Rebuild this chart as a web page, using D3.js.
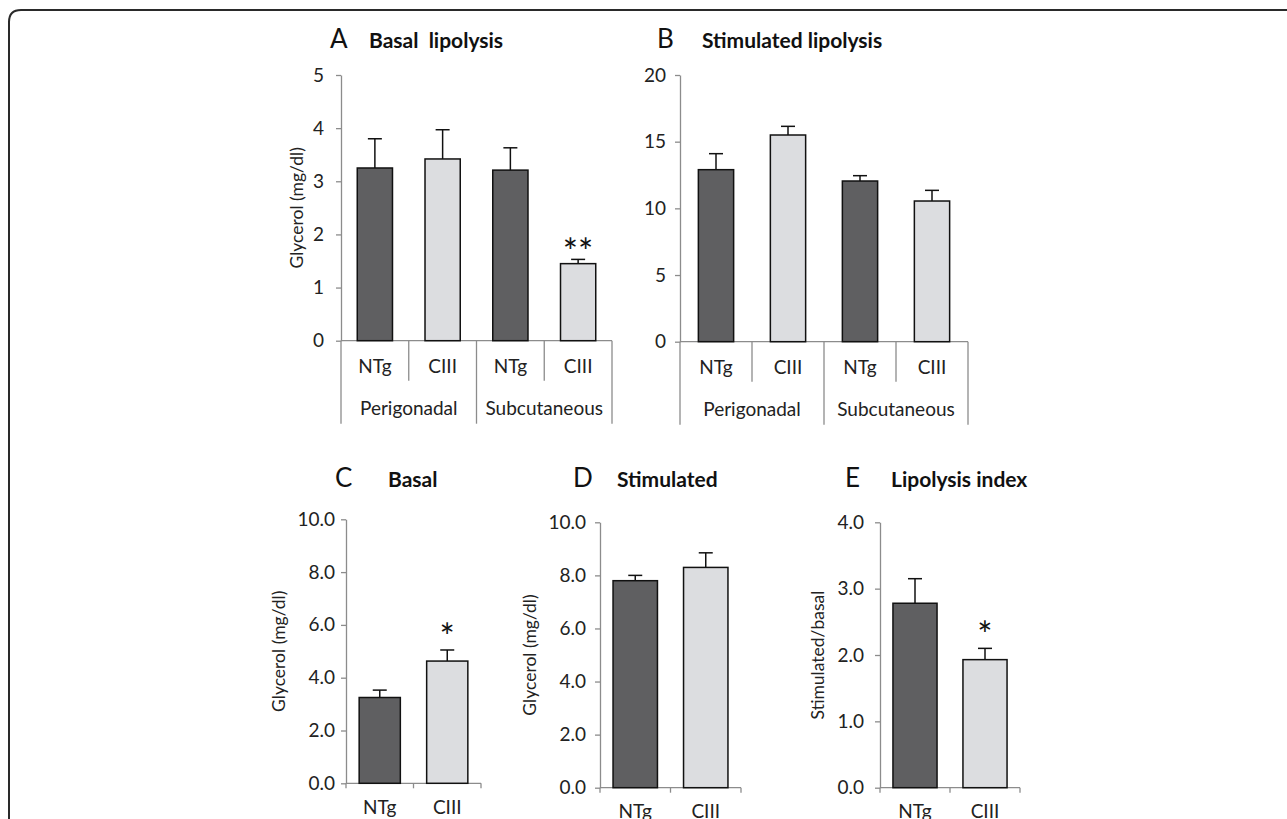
<!DOCTYPE html>
<html>
<head>
<meta charset="utf-8">
<script src="https://cdn.jsdelivr.net/npm/d3@7"></script>
<style>
  body { margin: 0; background: #fff; }
  svg { display: block; font-family: Lato, "Open Sans", sans-serif; }
</style>
</head>
<body>
<svg id="fig" width="1287" height="819"></svg>
<script>
// values
const genotypes = ["NTg", "CIII"];
const depots = ["Perigonadal", "Subcutaneous"];

const basalLipolysis = [3.25, 3.42, 3.21, 1.45];
const basalLipolysisErr = [0.55, 0.55, 0.42, 0.08];
const basalLipolysisSig = ["", "", "", "**"];

const stimLipolysis = [12.9, 15.5, 12.05, 10.55];
const stimLipolysisErr = [1.2, 0.65, 0.4, 0.8];

const basal = [3.25, 4.63];
const basalErr = [0.28, 0.42];
const basalSig = ["", "*"];

const stimulated = [7.8, 8.3];
const stimulatedErr = [0.2, 0.55];

const lipIndex = [2.78, 1.93];
const lipIndexErr = [0.37, 0.17];
const lipIndexSig = ["", "*"];

const ticksA = [0, 1, 2, 3, 4, 5];
const ticksB = [0, 5, 10, 15, 20];
const ticksCD = [0, 2, 4, 6, 8, 10];
const ticksE = [0, 1, 2, 3, 4];

const svg = d3.select('#fig');
const axisColor = '#8c8c8c';
const fills = { NTg: '#5f5f61', CIII: '#dcdde0' };

// frame with rounded top-left corner
svg.append('path')
    .attr('d', 'M9,830 V22 Q9,10 21,10 H1300')
    .attr('fill', 'none')
    .attr('stroke', '#2a2a2a')
    .attr('stroke-width', 2);

// build rows for the grouped panels
const grouped = (vals, errs, sig) => {
    let rows = [];
    depots.forEach((dp, gi) => {
        genotypes.forEach((g, i) => {
            const k = gi * 2 + i;
            rows.push({ key: dp + ' ' + g, group: dp, geno: g, v: vals[k], e: errs[k], s: sig ? sig[k] : '' });
        });
    });
    return rows;
}
const simple = (vals, errs, sig) => genotypes.map((g, i) => ({ key: g, geno: g, v: vals[i], e: errs[i], s: sig ? sig[i] : '' }));

const drawPanel = (p) => {
    const g = svg.append('g');
    const y = d3.scaleLinear().domain(p.domain).range([p.y0, p.y1]);
    const x = d3.scaleBand().domain(p.rows.map(d => d.key)).range([p.x0, p.x1]);
    const bw = x.bandwidth() * p.barFrac;

    // y axis
    const ya = g.append('g')
        .attr('transform', `translate(${p.x0},0)`)
        .call(d3.axisLeft(y).tickValues(p.ticks).tickFormat(d3.format(p.fmt)).tickSizeInner(5).tickSizeOuter(0).tickPadding(p.pad));
    ya.select('.domain').attr('stroke', axisColor).attr('stroke-width', 1.3);
    ya.selectAll('.tick line').attr('stroke', axisColor).attr('stroke-width', 1.3);
    ya.selectAll('.tick text').attr('fill', '#222').style('font-size', '19px').style('font-family', 'Lato, sans-serif');

    // x axis line
    g.append('line')
        .attr('x1', p.x0).attr('x2', p.x1)
        .attr('y1', p.y0).attr('y2', p.y0)
        .attr('stroke', axisColor).attr('stroke-width', 1.3);

    if (p.grouped) {
        // separators between categories, long ones between depots
        const bounds = p.rows.map((d, i) => ({ xv: x(d.key), long: i % 2 == 0 }));
        bounds.push({ xv: p.x1, long: true });
        g.selectAll('line.sep')
            .data(bounds)
            .enter()
            .append('line')
            .attr('x1', d => d.xv).attr('x2', d => d.xv)
            .attr('y1', p.y0)
            .attr('y2', d => d.long ? p.y0 + 83 : p.y0 + 40)
            .attr('stroke', axisColor).attr('stroke-width', 1.3);

        g.selectAll('text.grp')
            .data(depots)
            .enter()
            .append('text')
            .attr('x', (d, i) => (x(p.rows[i * 2].key) + x(p.rows[i * 2 + 1].key) + x.bandwidth()) / 2)
            .attr('y', p.y0 + 74)
            .attr('text-anchor', 'middle')
            .style('font-size', '19px')
            .attr('fill', '#222')
            .text(d => d);
    } else {
        const bounds = p.rows.map(d => x(d.key)).concat([p.x1]);
        g.selectAll('line.tk')
            .data(bounds)
            .enter()
            .append('line')
            .attr('x1', d => d).attr('x2', d => d)
            .attr('y1', p.y0).attr('y2', p.y0 + 5)
            .attr('stroke', axisColor).attr('stroke-width', 1.3);
    }

    g.selectAll('text.cat')
        .data(p.rows)
        .enter()
        .append('text')
        .attr('x', d => x(d.key) + x.bandwidth() / 2)
        .attr('y', p.y0 + p.catDy)
        .attr('text-anchor', 'middle')
        .style('font-size', '19px')
        .attr('fill', '#222')
        .text(d => d.geno);

    // error bars first, bars on top
    g.selectAll('line.err')
        .data(p.rows)
        .enter()
        .append('line')
        .attr('x1', d => x(d.key) + x.bandwidth() / 2)
        .attr('x2', d => x(d.key) + x.bandwidth() / 2)
        .attr('y1', d => y(d.v))
        .attr('y2', d => y(d.v + d.e))
        .attr('stroke', '#111').attr('stroke-width', 1.5);
    g.selectAll('line.cap')
        .data(p.rows)
        .enter()
        .append('line')
        .attr('x1', d => x(d.key) + x.bandwidth() / 2 - 7)
        .attr('x2', d => x(d.key) + x.bandwidth() / 2 + 7)
        .attr('y1', d => y(d.v + d.e))
        .attr('y2', d => y(d.v + d.e))
        .attr('stroke', '#111').attr('stroke-width', 1.5);

    g.selectAll('rect.bar')
        .data(p.rows)
        .enter()
        .append('rect')
        .attr('x', d => x(d.key) + (x.bandwidth() - bw) / 2)
        .attr('y', d => y(d.v))
        .attr('width', bw)
        .attr('height', d => y(0) - y(d.v))
        .attr('fill', d => fills[d.geno])
        .attr('stroke', '#111')
        .attr('stroke-width', 1.5);

    g.selectAll('text.sig')
        .data(p.rows.filter(d => d.s))
        .enter()
        .append('text')
        .attr('x', d => x(d.key) + x.bandwidth() / 2)
        .attr('y', d => y(d.v + d.e) + p.sigDy)
        .attr('text-anchor', 'middle')
        .style('font-size', '36px')
        .attr('fill', '#111')
        .text(d => d.s);

    // y title
    if (p.yTitle) {
        g.append('text')
            .attr('transform', `translate(${p.yTitleX},${(p.y0 + p.y1) / 2}) rotate(-90)`)
            .attr('text-anchor', 'middle')
            .attr('dominant-baseline', 'middle')
            .style('font-size', '17.5px')
            .attr('fill', '#222')
            .text(p.yTitle);
    }

    // panel letter + title
    g.append('text')
        .attr('x', p.letterX).attr('y', p.titleY)
        .style('font-size', '26px')
        .attr('fill', '#111')
        .text(p.letter);
    g.append('text')
        .attr('x', p.titleX).attr('y', p.titleY)
        .style('font-size', '21px')
        .style('font-weight', 'bold')
        .attr('fill', '#111')
        .attr('xml:space', 'preserve')
        .text(p.title);
}

drawPanel({
    rows: grouped(basalLipolysis, basalLipolysisErr, basalLipolysisSig), grouped: true,
    domain: [0, 5], ticks: ticksA, fmt: 'd', pad: 12,
    x0: 341, x1: 612, y0: 340.7, y1: 75, barFrac: 0.52, catDy: 32, sigDy: 6,
    yTitle: 'Glycerol (mg/dl)', yTitleX: 299,
    letter: 'A', letterX: 330, title: 'Basal  lipolysis', titleX: 369, titleY: 48
});

drawPanel({
    rows: grouped(stimLipolysis, stimLipolysisErr), grouped: true,
    domain: [0, 20], ticks: ticksB, fmt: 'd', pad: 9,
    x0: 680, x1: 968, y0: 341.7, y1: 75, barFrac: 0.49, catDy: 32, sigDy: 0,
    letter: 'B', letterX: 657, title: 'Stimulated lipolysis', titleX: 702, titleY: 48
});

drawPanel({
    rows: simple(basal, basalErr, basalSig), grouped: false,
    domain: [0, 10], ticks: ticksCD, fmt: '.1f', pad: 6,
    x0: 346, x1: 481, y0: 783.3, y1: 519.3, barFrac: 0.61, catDy: 31, sigDy: 0,
    yTitle: 'Glycerol (mg/dl)', yTitleX: 281,
    letter: 'C', letterX: 335, title: 'Basal', titleX: 388, titleY: 487
});

drawPanel({
    rows: simple(stimulated, stimulatedErr), grouped: false,
    domain: [0, 10], ticks: ticksCD, fmt: '.1f', pad: 9,
    x0: 600, x1: 741, y0: 787.7, y1: 522.3, barFrac: 0.63, catDy: 30, sigDy: 0,
    yTitle: 'Glycerol (mg/dl)', yTitleX: 532,
    letter: 'D', letterX: 573, title: 'Stimulated', titleX: 617, titleY: 487
});

drawPanel({
    rows: simple(lipIndex, lipIndexErr, lipIndexSig), grouped: false,
    domain: [0, 4], ticks: ticksE, fmt: '.1f', pad: 11,
    x0: 880, x1: 1020, y0: 787.7, y1: 522.3, barFrac: 0.63, catDy: 30, sigDy: 0,
    yTitle: 'Stimulated/basal', yTitleX: 820,
    letter: 'E', letterX: 845, title: 'Lipolysis index', titleX: 891, titleY: 487
});
</script>
</body>
</html>
